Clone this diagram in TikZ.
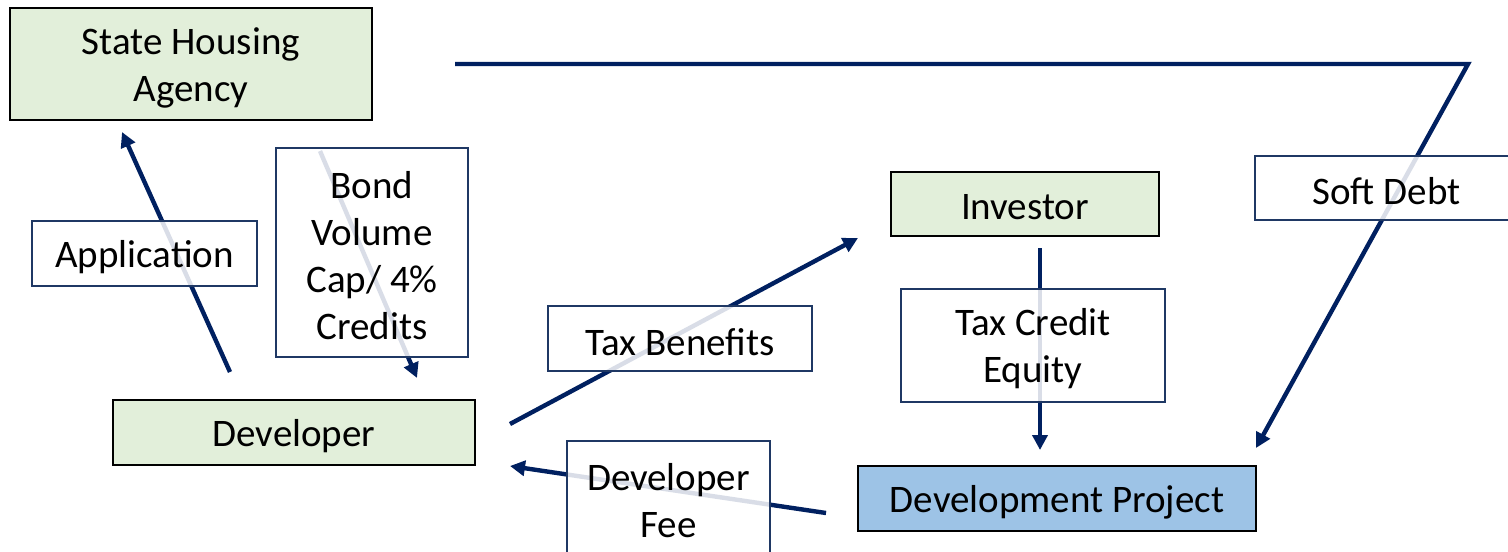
\documentclass[tikz,border=0pt]{standalone}
\usepackage{fontspec}
\setmainfont{Carlito}
\usetikzlibrary{arrows.meta}
\definecolor{navy}{HTML}{002060}
\definecolor{boxline}{HTML}{1F3864}
\definecolor{agreen}{HTML}{E2EFDA}
\definecolor{pblue}{HTML}{9DC3E6}
\begin{document}
\begin{tikzpicture}[x=0.5pt,y=-0.5pt,
  every node/.style={inner sep=0pt, outer sep=0pt},
  txt/.style={font=\fontsize{19.5}{23.5}\selectfont, align=center},
  party/.style={draw=black, line width=0.75pt, fill=agreen},
  project/.style={draw=black, line width=0.75pt, fill=pblue},
  flowlabel/.style={draw=boxline, line width=0.75pt, fill=white, fill opacity=0.85},
  flow/.style={draw=navy, line width=2.2pt, -{Triangle[length=7.5pt,width=7.5pt]}}]

% page frame
\clip (0,0) rectangle (1508,551);
\fill[white] (0,0) rectangle (1508,551);

% end points of the flows
\coordinate (appS) at (230,372);
\coordinate (appE) at (122,132);
\coordinate (bondS) at (320,151);
\coordinate (bondE) at (417,378);
\coordinate (taxS) at (510,424);
\coordinate (taxE) at (858,238);
\coordinate (eqS) at (1040,248);
\coordinate (eqE) at (1040,450);
\coordinate (softS) at (455,64);
\coordinate (softK) at (1468,64);
\coordinate (softE) at (1256,448);
\coordinate (feeS) at (826,513);
\coordinate (feeE) at (510,466);

% flows, drawn beneath the label boxes
\draw[flow] (appS) -- (appE);
\draw[flow] (bondS) -- (bondE);
\draw[flow] (taxS) -- (taxE);
\draw[flow] (eqS) -- (eqE);
\draw[flow] (softS) -- (softK) -- (softE);
\draw[flow] (feeS) -- (feeE);

% parties
\node[party, minimum width=181pt, minimum height=56pt] (sha) at (191,64) {};
\node[party, minimum width=181pt, minimum height=32.5pt] (dev) at (294,432.5) {};
\node[party, minimum width=134pt, minimum height=32pt] (inv) at (1025,204) {};
\node[project, minimum width=199pt, minimum height=32.5pt] (proj) at (1057,498.5) {};

% flow labels
\node[flowlabel, minimum width=112.5pt, minimum height=32.5pt] (lapp) at (144.5,253.5) {};
\node[flowlabel, minimum width=96pt, minimum height=104.5pt] (lbond) at (372,252.5) {};
\node[flowlabel, minimum width=132pt, minimum height=32.5pt] (ltax) at (680,338.5) {};
\node[flowlabel, minimum width=132pt, minimum height=56.5pt] (leq) at (1033,345.5) {};
\node[flowlabel, minimum width=131.5pt, minimum height=32pt] (lsoft) at (1386.5,188) {};
\node[flowlabel, minimum width=101.5pt, minimum height=56pt] (lfee) at (668.5,497) {};

% texts
\node[txt] (shaT) at ([yshift=-1.75pt]sha.center) {State Housing\\Agency};
\node[txt] (devT) at ([yshift=-1.75pt]dev.center) {Developer};
\node[txt] (invT) at ([yshift=-1.75pt]inv.center) {Investor};
\node[txt] (projT) at ([yshift=-1.75pt]proj.center) {Development Project};
\node[txt] (lappT) at ([yshift=-1.75pt]lapp.center) {Application};
\node[txt] (lbondT) at ([yshift=-1.75pt]lbond.center) {Bond\\Volume\\Cap/ 4\%\\Credits};
\node[txt] (ltaxT) at ([yshift=-1.75pt]ltax.center) {Tax Benefits};
\node[txt] (leqT) at ([yshift=-1.75pt]leq.center) {Tax Credit\\Equity};
\node[txt] (lsoftT) at ([yshift=-1.75pt]lsoft.center) {Soft Debt};
\node[txt] (lfeeT) at ([yshift=-1.75pt]lfee.center) {Developer\\Fee};
\end{tikzpicture}
\end{document}
